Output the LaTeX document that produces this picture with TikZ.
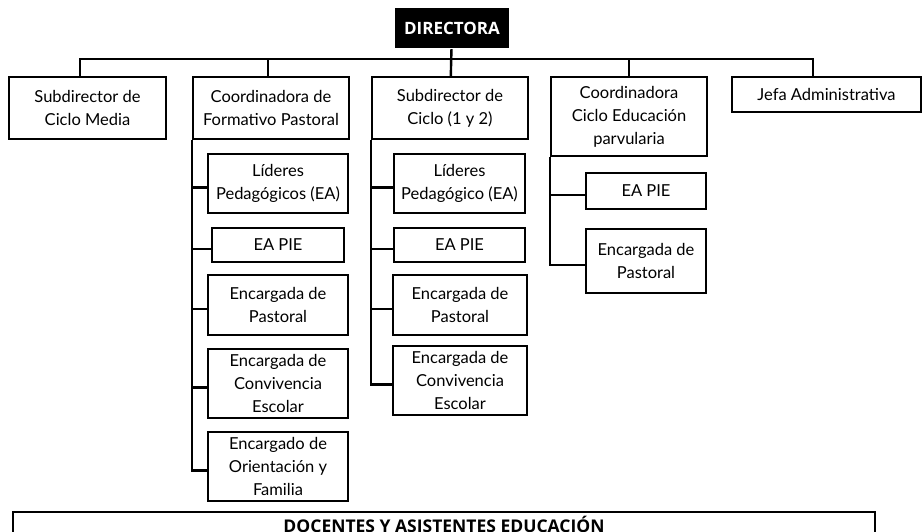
\documentclass[tikz,border=0pt]{standalone}
\usepackage{fontspec}
\setmainfont{Lato}
\newfontfamily\headfont{Open Sans}

\begin{document}
\begin{tikzpicture}[x=1pt, y=-1pt, line width=2.4pt,
    box/.style = {rectangle, draw, inner sep=1pt, align=center, font=\fontsize{16.5}{23}\selectfont},
    head/.style = {rectangle, inner sep=0pt, font=\headfont\bfseries\fontsize{17}{20}\selectfont}]
    \useasboundingbox (0,0) rectangle (922,532);

    % top
    \node (dir) [head, fill=black, text=white, minimum width=114pt, minimum height=40pt] at (452,28) {DIRECTORA};

    % first level: name/x/y/width/height/text
    \foreach \n/\x/\y/\w/\h/\t in {
      sub1/87.5/108/157/62/{Subdirector de\\Ciclo Media},
      sub2/271/108/156/62/{Coordinadora de\\Formativo Pastoral},
      sub3/450/108/156/62/{Subdirector de\\Ciclo (1 y 2)},
      sub4/629/116.5/156/79/{Coordinadora\\Ciclo Educación\\parvularia},
      sub5/826.5/94.5/189/35/{Jefa Administrativa}}
    {
      \node (\n) [box, minimum width=\w pt, minimum height=\h pt] at (\x,\y) {\t};
    }

    % second level
    \foreach \n/\x/\y/\w/\h/\t in {
      l2/278/183.5/140/59/{Líderes\\Pedagógicos (EA)},
      p2/278/245/132/34/{EA PIE},
      e2/278/305/140/60/{Encargada de\\Pastoral},
      c2/278/383.5/140/69/{Encargada de\\Convivencia\\Escolar},
      o2/278/466.5/140/69/{Encargado de\\Orientación y\\Familia},
      l3/459.5/183.5/131/59/{Líderes\\Pedagógico (EA)},
      p3/459.5/245/131/34/{EA PIE},
      e3/460/305/134/60/{Encargada de\\Pastoral},
      c3/460/380.5/134/69/{Encargada de\\Convivencia\\Escolar},
      p4/646/191/120/36/{EA PIE},
      e4/646/261/120/64/{Encargada de\\Pastoral}}
    {
      \node (\n) [box, minimum width=\w pt, minimum height=\h pt] at (\x,\y) {\t};
    }

    % bottom
    \node (doc) [head, draw, font=\headfont\bfseries\fontsize{17.5}{20}\selectfont, minimum width=862pt, minimum height=24pt] at (444,524) {DOCENTES Y ASISTENTES EDUCACIÓN};

    % connectors
    \draw (dir) -- (sub3);
    \draw ([xshift=-7.5pt]sub1.north) -- ++(0,-17) -| ([xshift=-13.5pt]sub5.north);
    \draw ([xshift=-3pt]sub2.north) -- ++(0,-17);
    \draw (sub4.north) -- ++(0,-17);

    \foreach \c in {l2,p2,e2,c2,o2}
      \draw (sub2.south west) |- ([yshift=-4pt]\c.west);
    \foreach \c in {l3,p3,e3,c3}
      \draw (sub3.south west) |- ([yshift=-4pt]\c.west);
    \foreach \c in {p4,e4}
      \draw (sub4.south west) |- ([yshift=-4pt]\c.west);
\end{tikzpicture}
\end{document}
